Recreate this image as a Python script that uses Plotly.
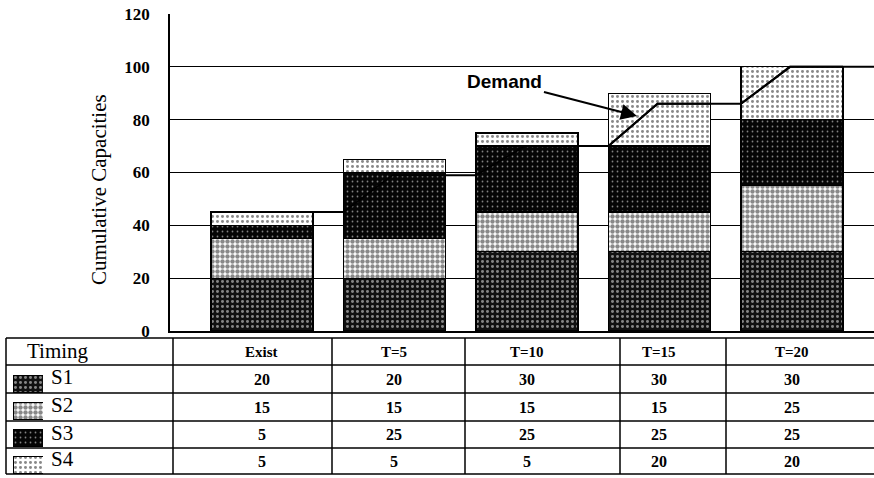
import plotly.graph_objects as go

# ---------------- data ----------------
categories = ["Exist", "T=5", "T=10", "T=15", "T=20"]
series_names = ["S1", "S2", "S3", "S4"]
s1 = [20, 20, 30, 30, 30]
s2 = [15, 15, 15, 15, 25]
s3 = [5, 25, 25, 25, 25]
s4 = [5, 5, 5, 20, 20]
demand = [45, 59, 70, 86, 100]
y_ticks = [0, 20, 40, 60, 80, 100, 120]

series_values = [s1, s2, s3, s4]

# ---------------- styles ----------------
W, H = 874, 478
SERIF = "Liberation Serif"
SANS = "Liberation Sans"
BAR_W = 0.77
RAMP = 0.37
X_RANGE = [-0.694, 4.619]

patterns = [
    dict(shape=".", bgcolor="#111111", fgcolor="white", size=5, solidity=0.28),
    dict(shape=".", bgcolor="white", fgcolor="#111111", size=5, solidity=0.62),
    dict(shape=".", bgcolor="#050505", fgcolor="white", size=5, solidity=0.1),
    dict(shape=".", bgcolor="white", fgcolor="#111111", size=5, solidity=0.28),
]

def px_x(p):
    return p / W

def px_y(p):
    return 1 - p / H

xs = list(range(len(categories)))
n = len(xs)

# demand polyline (full) and the parts that sit on light S4 areas
dx = [xs[0]]
dy = [demand[0]]
for i in range(1, n):
    left = xs[i] - BAR_W / 2
    dx += [left, left + RAMP]
    dy += [demand[i - 1], demand[i]]
dx.append(X_RANGE[1])
dy.append(demand[-1])

s3_top = [a + b + c for a, b, c in zip(s1, s2, s3)]
over_x, over_y = [], []
for i in range(1, n):
    if demand[i - 1] >= s3_top[i]:
        left = xs[i] - BAR_W / 2
        right = xs[i] + BAR_W / 2
        over_x += [left, left + RAMP, right, None]
        over_y += [demand[i - 1], demand[i], demand[i], None]

fig = go.Figure()

# demand line under the bars (visible between bars)
fig.add_trace(go.Scatter(x=dx, y=dy, mode="lines",
                         line=dict(color="black", width=2),
                         xaxis="x", yaxis="y", showlegend=False, hoverinfo="skip"))

# stacked bars
for name, vals, pat in zip(series_names, series_values, patterns):
    fig.add_trace(go.Bar(
        x=xs, y=vals, name=name, width=BAR_W,
        marker=dict(color=pat["bgcolor"], pattern=pat,
                    line=dict(color="black", width=1.3)),
        xaxis="x", yaxis="y", showlegend=False, hoverinfo="skip",
    ))

# demand line on top of light areas
fig.add_trace(go.Scatter(x=over_x, y=over_y, mode="lines",
                         line=dict(color="black", width=2),
                         xaxis="x", yaxis="y", showlegend=False, hoverinfo="skip"))

# legend swatches in the table (second axes pair)
for k, (name, pat) in enumerate(zip(series_names, patterns)):
    fig.add_trace(go.Bar(
        x=[1], y=[k], orientation="h", width=0.63,
        marker=dict(color=pat["bgcolor"], pattern=pat,
                    line=dict(color="black", width=1)),
        xaxis="x2", yaxis="y2", showlegend=False, hoverinfo="skip",
    ))

# ---------------- table ----------------
shapes = []
row_edges = [338, 365, 393, 421, 448, 474]
col_edges = [6, 173, 332, 465, 620, 726]
for r in row_edges:
    shapes.append(dict(type="line", xref="paper", yref="paper",
                       x0=px_x(6), x1=1.0, y0=px_y(r), y1=px_y(r),
                       line=dict(color="black", width=1.5)))
for c in col_edges:
    shapes.append(dict(type="line", xref="paper", yref="paper",
                       x0=px_x(c), x1=px_x(c), y0=px_y(row_edges[0]), y1=px_y(row_edges[-1]),
                       line=dict(color="black", width=1.5)))

annotations = []
row_centers = [(row_edges[i] + row_edges[i + 1]) / 2 for i in range(len(row_edges) - 1)]

annotations.append(dict(text="Timing", xref="paper", yref="paper",
                        x=px_x(58), y=px_y(row_centers[0] - 1), showarrow=False,
                        font=dict(family=SERIF, size=21, color="black"),
                        xanchor="center", yanchor="middle"))
for i, cat in enumerate(categories):
    annotations.append(dict(text=cat, xref="x", yref="paper",
                            x=xs[i], y=px_y(row_centers[0]), showarrow=False,
                            font=dict(family=SERIF, size=15, color="black", weight="bold"),
                            xanchor="center", yanchor="middle"))
for k, (name, vals) in enumerate(zip(series_names, series_values)):
    yc = px_y(row_centers[k + 1])
    annotations.append(dict(text=name, xref="paper", yref="paper",
                            x=px_x(49), y=px_y(row_centers[k + 1] - 2), showarrow=False,
                            font=dict(family=SERIF, size=21, color="black"),
                            xanchor="left", yanchor="middle"))
    for i, v in enumerate(vals):
        annotations.append(dict(text=str(v), xref="x", yref="paper",
                                x=xs[i], y=yc, showarrow=False,
                                font=dict(family=SERIF, size=16, color="black", weight="bold"),
                                xanchor="center", yanchor="middle"))

# y-axis title
annotations.append(dict(text="Cumulative Capacities", xref="paper", yref="paper",
                        x=px_x(99), y=px_y(190), textangle=-90, showarrow=False,
                        font=dict(family=SERIF, size=21, color="black"),
                        xanchor="center", yanchor="middle"))

# demand callout
annotations.append(dict(text="<b>Demand</b>", xref="x", yref="y",
                        x=2.83, y=81.4, ax=-132, ay=-34,
                        showarrow=True, arrowhead=2, arrowsize=1.6, arrowwidth=2,
                        arrowcolor="black",
                        font=dict(family=SANS, size=19, color="black")))

fig.update_layout(
    width=W, height=H,
    margin=dict(l=0, r=0, t=0, b=0, pad=0, autoexpand=False),
    paper_bgcolor="white", plot_bgcolor="white",
    barmode="stack", showlegend=False,
    xaxis=dict(domain=[px_x(170), 1.0], range=X_RANGE, showticklabels=False,
               showgrid=False, zeroline=False, showline=True, automargin=False,
               linecolor="black", linewidth=1.5, ticks=""),
    yaxis=dict(domain=[px_y(331), px_y(14)], range=[0, 120], tickvals=y_ticks,
               showgrid=True, gridcolor="black", gridwidth=1.3, automargin=False,
               zeroline=False, showline=True, linecolor="black", linewidth=1.5,
               ticks="", ticklabelstandoff=15,
               tickfont=dict(family=SERIF, size=17, color="black", weight="bold")),
    xaxis2=dict(domain=[px_x(13), px_x(43)], range=[0, 1], visible=False,
                anchor="y2", fixedrange=True, automargin=False),
    yaxis2=dict(domain=[0, px_y(370)], range=[3.5, -0.5], visible=False,
                anchor="x2", fixedrange=True, automargin=False),
    shapes=shapes,
    annotations=annotations,
)

post = "document.body.style.margin='0'; document.body.style.overflow='hidden';"
fig.write_html("out.html", post_script=post, config={"displayModeBar": False})
